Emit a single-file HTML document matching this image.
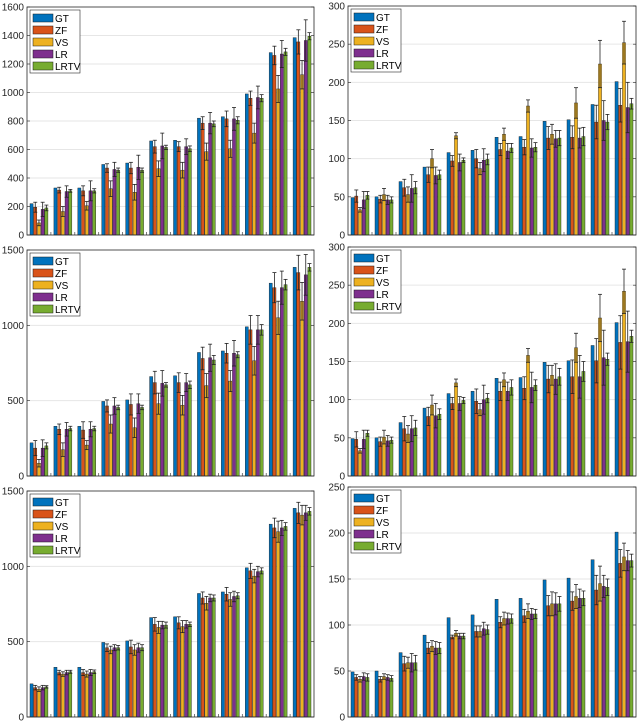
<!DOCTYPE html>
<html><head><meta charset="utf-8"><style>
body{margin:0;background:#fff;}
svg{display:block;font-family:"Liberation Sans",sans-serif;}
</style></head><body>
<svg id="c" width="640" height="722"></svg>
<script>
const seriesNames=["GT","ZF","VS","LR","LRTV"];
const colors=["#0072BD","#D95319","#EDB120","#7E2F8E","#77AC30"];
const gtLeft=[220,330,330,495,505,660,665,820,830,990,1280,1385];
const gtRight=[49,50,70,89,108,111,128,129,149,151,171,201];
const tlVal=[[195,85,180,190],[315,165,305,310],[310,205,310,310],[470,325,460,455],[470,300,475,455],[620,465,625,615],[620,455,620,605],[785,585,785,780],[815,605,815,805],[960,715,965,960],[1260,1025,1270,1285],[1355,1125,1365,1395]];
const tlErr=[[35,20,50,20],[20,35,40,10],[35,30,70,15],[30,55,50,15],[40,55,85,15],[45,55,90,15],[35,55,55,20],[45,60,75,20],[55,60,80,25],[50,70,80,25],[65,95,95,25],[85,100,145,25]];
const mlVal=[[185,85,185,200],[310,175,310,315],[305,205,310,315],[465,345,465,455],[475,320,480,455],[620,480,615,605],[620,470,620,605],[780,600,785,770],[815,630,815,805],[970,765,970,970],[1250,1050,1250,1270],[1350,1160,1335,1385]];
const mlErr=[[50,25,55,20],[35,45,45,15],[55,30,50,15],[40,60,55,15],[70,65,65,15],[75,70,85,15],[65,65,60,25],[75,80,90,30],[65,70,85,20],[95,95,95,35],[100,110,110,35],[115,125,135,25]];
const blVal=[[195,185,195,200],[295,285,295,300],[295,285,295,300],[460,445,460,460],[465,445,460,460],[615,595,610,610],[625,600,615,615],[790,755,790,790],[815,780,800,805],[970,935,965,970],[1255,1230,1255,1265],[1355,1340,1355,1365]];
const blErr=[[15,15,15,8],[15,15,15,10],[20,20,20,12],[25,25,20,15],[45,35,30,20],[45,40,25,20],[40,40,25,15],[40,45,25,20],[45,45,35,20],[50,45,35,20],[65,70,50,25],[70,65,50,25]];
const trVal=[[51,33,46,52],[47,53,46,46],[62,53,61,62],[79,100,78,79],[97,130,95,98],[100,87,98,99],[112,132,110,114],[115,169,114,115],[127,132,126,127],[128,173,127,129],[148,224,150,148],[170,252,167,172]];
const trErr=[[8,3,11,5],[5,8,6,4],[11,10,18,8],[10,12,11,6],[7,4,11,3],[12,8,15,7],[8,8,10,6],[10,8,12,6],[15,13,11,10],[15,20,13,12],[22,31,26,10],[22,28,33,7]];
const mrVal=[[48,33,48,56],[45,51,46,47],[62,55,62,63],[78,93,79,81],[95,122,95,99],[98,87,100,102],[111,126,111,116],[115,158,116,119],[127,132,127,130],[130,168,130,137],[151,207,155,153],[175,242,176,183]];
const mrErr=[[10,3,12,4],[6,9,7,4],[16,11,17,10],[12,13,16,7],[8,5,9,4],[16,8,19,6],[12,9,12,10],[15,9,20,7],[18,13,20,11],[22,19,28,13],[29,31,36,8],[35,29,40,8]];
const brVal=[[43,41,44,43],[41,44,43,42],[58,59,59,59],[75,77,75,75],[87,91,88,88],[93,93,96,95],[103,107,107,107],[110,115,112,112],[121,123,123,123],[126,131,129,129],[138,145,142,141],[167,174,170,170]];
const brErr=[[3,3,4,4],[3,3,3,3],[8,6,10,8],[6,6,7,6],[2,3,3,3],[6,6,7,5],[6,7,6,5],[7,8,6,5],[11,13,12,8],[10,13,10,8],[16,19,12,9],[15,15,11,7]];
const ticksA=[0,200,400,600,800,1000,1200,1400,1600];
const ticksB=[0,500,1000,1500];
const ticksC=[0,50,100,150,200,250,300];
const ticksD=[0,50,100,150,200,250];

const svg=document.getElementById('c');
const NS="http://www.w3.org/2000/svg";
function mk(t,a,p){const e=document.createElementNS(NS,t);for(const k in a)e.setAttribute(k,a[k]);(p||svg).appendChild(e);return e;}

function panel(name,x0,x1,y0,y1,ymax,ticks,gt,vals,errs){
  const g=mk('g',{});
  
  
  const ys=v=>y1-(v/ymax)*(y1-y0);
  const n=gt.length, slot=(x1-x0)/n, bw=slot*0.155;
  ticks.forEach(t=>{
    if(t>0&&t<ymax){const gl=mk('line',{x1:x0,x2:x1,y1:ys(t),y2:ys(t),stroke:'#e6e6e6','stroke-width':1},g);
    }
    const tx=mk('text',{x:x0-3,y:ys(t)+3.5,'text-anchor':'end','font-size':10,fill:'#262626'},g);
    
    tx.textContent=t;
    mk('line',{x1:x0,x2:x0+3,y1:ys(t),y2:ys(t),stroke:'#262626','stroke-width':0.6},g);
    mk('line',{x1:x1,x2:x1-3,y1:ys(t),y2:ys(t),stroke:'#262626','stroke-width':0.6},g);
  });
  for(let i=0;i<n;i++){
    const cx=x0+slot*(i+0.5);
    const vs=[gt[i]].concat(vals[i]);
    for(let s=0;s<5;s++){
      const bx=cx+(s-2)*bw-bw/2+0.3;
      const r=mk('rect',{x:bx,y:ys(vs[s]),width:bw-0.6,height:y1-ys(vs[s]),fill:colors[s],stroke:'#1a1a1a','stroke-width':0.4},g);
      
      
      if(s>0){
        const e=errs[i][s-1], ex=bx+bw/2-0.3;
        const el=mk('g',{stroke:'#222','stroke-width':0.8},g);
        
        
        mk('line',{x1:ex,x2:ex,y1:ys(vs[s]-e),y2:ys(vs[s]+e)},el);
        mk('line',{x1:ex-2,x2:ex+2,y1:ys(vs[s]-e),y2:ys(vs[s]-e)},el);
        mk('line',{x1:ex-2,x2:ex+2,y1:ys(vs[s]+e),y2:ys(vs[s]+e)},el);
      }
    }
    if(i>0){mk('line',{x1:x0+slot*i,x2:x0+slot*i,y1:y1,y2:y1-3,stroke:'#262626','stroke-width':0.6},g);}
  }
  const bx=mk('rect',{x:x0,y:y0,width:x1-x0,height:y1-y0,fill:'none',stroke:'#262626','stroke-width':0.8},g);
  
  const lg=mk('g',{},g);
  
  
  mk('rect',{x:x0+3,y:y0+3,width:50,height:63,fill:'#fff',stroke:'#262626','stroke-width':0.6},lg);
  for(let s=0;s<5;s++){
    const yy=y0+7+s*12;
    const sw=mk('rect',{x:x0+6,y:yy,width:20,height:8,fill:colors[s],stroke:'#1a1a1a','stroke-width':0.5},lg);
    
    const t=mk('text',{x:x0+28,y:yy+8,'font-size':10,fill:'#000'},lg);
    
    t.textContent=seriesNames[s];
  }
}
panel('panel-top-left',27,314,7,235,1600,ticksA,gtLeft,tlVal,tlErr);
panel('panel-top-right',348,636,6,235,300,ticksC,gtRight,trVal,trErr);
panel('panel-mid-left',27,314,250,476,1500,ticksB,gtLeft,mlVal,mlErr);
panel('panel-mid-right',348,636,247,476,300,ticksC,gtRight,mrVal,mrErr);
panel('panel-bottom-left',27,314,491,717,1500,ticksB,gtLeft,blVal,blErr);
panel('panel-bottom-right',348,636,487,717,250,ticksD,gtRight,brVal,brErr);
</script>
</body></html>
